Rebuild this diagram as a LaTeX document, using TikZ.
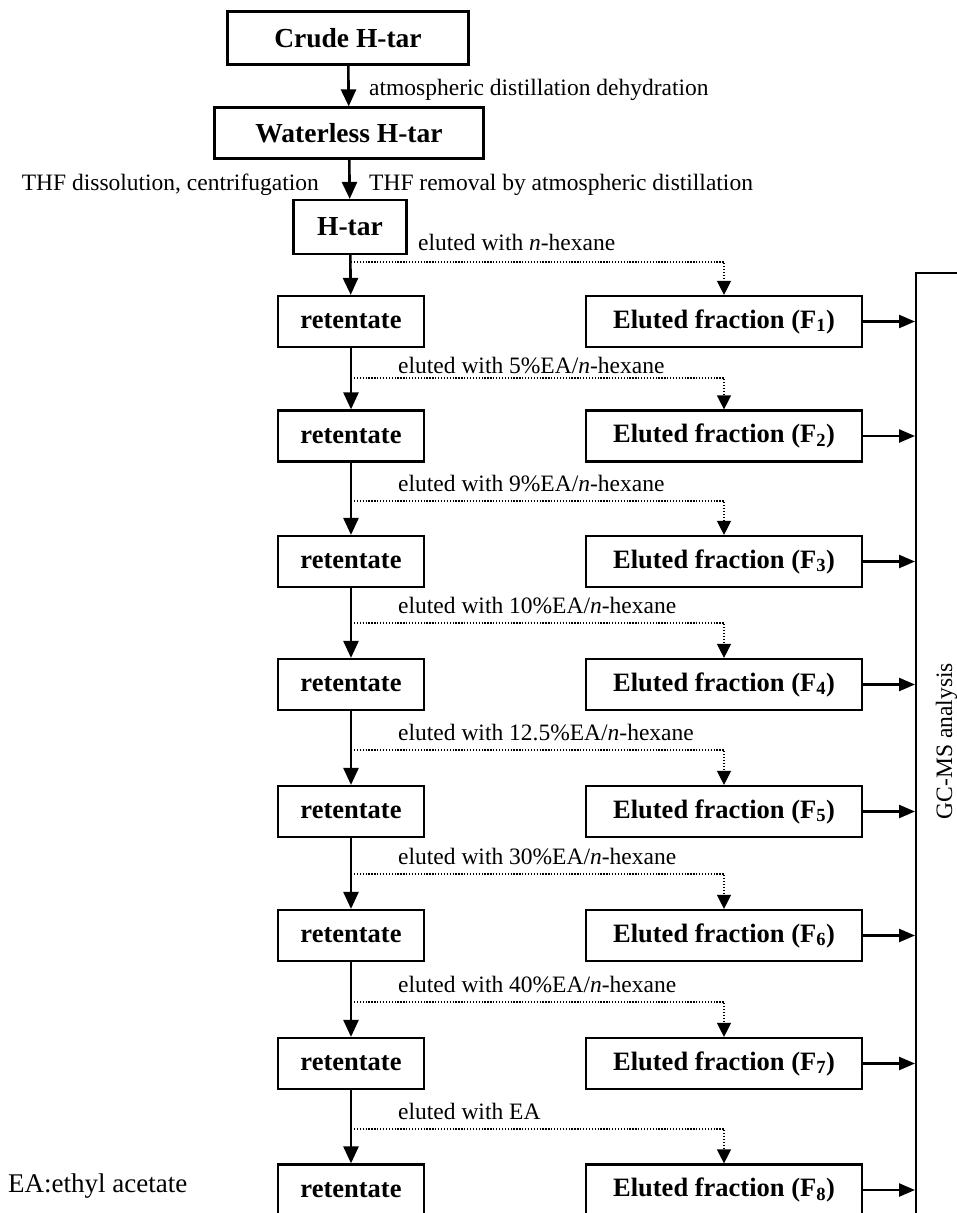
\documentclass[tikz,border=0pt]{standalone}
\usepackage{fontspec}
\setmainfont{Liberation Serif}
\usetikzlibrary{arrows.meta, positioning, calc}

\newcommand{\fsub}[1]{\textsubscript{#1}}

\begin{document}
\begin{tikzpicture}[
    x=1pt, y=-1pt,
    font=\fontsize{23.5}{26}\selectfont,
    stage/.style={draw, line width=2.2pt, inner sep=0pt,
                font=\fontsize{27.5}{30}\selectfont\bfseries},
    ret/.style={stage, minimum width=146pt, minimum height=51pt,
                font=\fontsize{26.5}{30}\selectfont\bfseries},
    frac/.style={ret, minimum width=276pt},
    note/.style={inner sep=0pt},
    arr/.style={-{Triangle[length=17pt, width=15pt]}, line width=2.6pt},
    dotarr/.style={-{Triangle[length=14pt, width=14pt]}, line width=1.3pt,
                dash pattern=on 1.3pt off 1.6pt},
    gcarr/.style={-{Triangle[length=16pt, width=13pt]}, line width=2.4pt}
]
\useasboundingbox (0,0) rectangle (957,1213);

% Top of the scheme: crude tar to H-tar
\node[stage, minimum width=241pt, minimum height=53pt] (crude) at (348,38) {Crude H-tar};
\node[stage, minimum width=269pt, minimum height=51pt] (waterless) at (349,133) {Waterless H-tar};
\node[stage, minimum width=113pt, minimum height=54pt] (htar) at (350,227) {H-tar};

\node[note, anchor=base west] (dehyd) at (369,95) {atmospheric distillation dehydration};
\node[note, anchor=base east] (thfin) at (319,190) {THF dissolution, centrifugation};
\node[note, anchor=base west] (thfout) at (369,190) {THF removal by atmospheric distillation};

\draw[arr] (crude) -- (waterless);
\draw[arr] (waterless) -- (htar);

% Left column: retentate after each elution step
\node[ret] (r1) at (351,321.5) {retentate};
\node[ret] (r2) at (351,436) {retentate};
\node[ret] (r3) at (351,561.5) {retentate};
\node[ret] (r4) at (351,684.5) {retentate};
\node[ret] (r5) at (351,811.5) {retentate};
\node[ret] (r6) at (351,935.5) {retentate};
\node[ret] (r7) at (351,1063.5) {retentate};
\node[ret] (r8) at (351,1190) {retentate};

% Right column: eluted fractions F1..F8
\node[frac] (f1) at (724,321.5) {Eluted fraction (F\fsub{1})};
\node[frac] (f2) at (724,436) {Eluted fraction (F\fsub{2})};
\node[frac] (f3) at (724,561.5) {Eluted fraction (F\fsub{3})};
\node[frac] (f4) at (724,684.5) {Eluted fraction (F\fsub{4})};
\node[frac] (f5) at (724,811.5) {Eluted fraction (F\fsub{5})};
\node[frac] (f6) at (724,935.5) {Eluted fraction (F\fsub{6})};
\node[frac] (f7) at (724,1063.5) {Eluted fraction (F\fsub{7})};
\node[frac] (f8) at (724,1190) {Eluted fraction (F\fsub{8})};

% Branch points on the retentate line
\coordinate (d1) at (351,262);
\coordinate (d2) at (351,378);
\coordinate (d3) at (351,501);
\coordinate (d4) at (351,623);
\coordinate (d5) at (351,750);
\coordinate (d6) at (351,874);
\coordinate (d7) at (351,1002);
\coordinate (d8) at (351,1129);

% Eluent labels
\node[note, anchor=base west] (e1) at (418,250) {eluted with \textit{n}-hexane};
\node[note, anchor=base west] (e2) at (398,373) {eluted with 5\%EA/\textit{n}-hexane};
\node[note, anchor=base west] (e3) at (398,491) {eluted with 9\%EA/\textit{n}-hexane};
\node[note, anchor=base west] (e4) at (398,613) {eluted with 10\%EA/\textit{n}-hexane};
\node[note, anchor=base west] (e5) at (398,740) {eluted with 12.5\%EA/\textit{n}-hexane};
\node[note, anchor=base west] (e6) at (398,864) {eluted with 30\%EA/\textit{n}-hexane};
\node[note, anchor=base west] (e7) at (398,992) {eluted with 40\%EA/\textit{n}-hexane};
\node[note, anchor=base west] (e8) at (398,1119) {eluted with EA};

% GC-MS box, cut by the right and bottom edges
\node[draw, line width=1.6pt, anchor=north west, minimum width=100pt,
      minimum height=1000pt] (gc) at (915,272) {};
\node[rotate=90, anchor=base] (gcname) at (952,741) {GC-MS analysis};

\node[note, anchor=base west, font=\fontsize{27}{30}\selectfont] (eanote) at (8,1192) {EA:ethyl acetate};

% Retentate chain
\draw[arr] (htar) -- (r1);
\draw[arr] (r1) -- (r2);
\draw[arr] (r2) -- (r3);
\draw[arr] (r3) -- (r4);
\draw[arr] (r4) -- (r5);
\draw[arr] (r5) -- (r6);
\draw[arr] (r6) -- (r7);
\draw[arr] (r7) -- (r8);

% Dotted branches to the fractions
\draw[dotarr] (d1) -| (f1.north);
\draw[dotarr] (d2) -| (f2.north);
\draw[dotarr] (d3) -| (f3.north);
\draw[dotarr] (d4) -| (f4.north);
\draw[dotarr] (d5) -| (f5.north);
\draw[dotarr] (d6) -| (f6.north);
\draw[dotarr] (d7) -| (f7.north);
\draw[dotarr] (d8) -| (f8.north);

% Fractions -> GC-MS
\draw[gcarr] (f1.east) -- (f1.east -| gc.west);
\draw[gcarr] (f2.east) -- (f2.east -| gc.west);
\draw[gcarr] (f3.east) -- (f3.east -| gc.west);
\draw[gcarr] (f4.east) -- (f4.east -| gc.west);
\draw[gcarr] (f5.east) -- (f5.east -| gc.west);
\draw[gcarr] (f6.east) -- (f6.east -| gc.west);
\draw[gcarr] (f7.east) -- (f7.east -| gc.west);
\draw[gcarr] (f8.east) -- (f8.east -| gc.west);

\end{tikzpicture}
\end{document}
